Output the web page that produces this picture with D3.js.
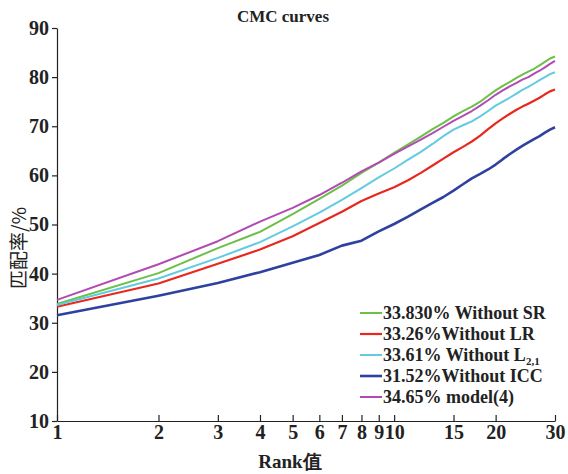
<!DOCTYPE html>
<html>
<head>
<meta charset="utf-8">
<script src="https://cdn.jsdelivr.net/npm/d3@7"></script>
<style>
  body { margin: 0; background: #fff; }
  text { font-family: "Liberation Serif", "DejaVu Serif", serif; font-weight: bold; fill: #222; }
</style>
</head>
<body>
<div id="chart"></div>
<script>
// Data
const ranks = d3.range(1, 31);
const xTicks = [1, 2, 3, 4, 5, 6, 7, 8, 9, 10, 15, 20, 30];
const yTicks = [10, 20, 30, 40, 50, 60, 70, 80, 90];

const withoutSR = [33.83, 40.1, 45.2, 48.5, 52.1, 55.2, 57.9, 60.5, 62.6, 64.6,
    66.3, 67.9, 69.4, 70.7, 72.0, 73.1, 74.0, 75.0, 76.2, 77.3,
    78.2, 79.0, 79.8, 80.5, 81.1, 81.7, 82.4, 83.1, 83.8, 84.2];
const withoutLR = [33.26, 38.0, 42.0, 44.9, 47.6, 50.3, 52.6, 54.8, 56.3, 57.6,
    59.0, 60.5, 62.0, 63.4, 64.7, 65.8, 66.9, 68.1, 69.4, 70.6,
    71.6, 72.5, 73.3, 74.0, 74.6, 75.2, 75.8, 76.5, 77.1, 77.5];
const withoutL21 = [33.61, 39.0, 43.2, 46.4, 49.6, 52.4, 55.0, 57.4, 59.6, 61.4,
    63.2, 64.8, 66.4, 68.0, 69.3, 70.2, 71.0, 72.0, 73.1, 74.2,
    75.0, 75.8, 76.6, 77.4, 78.0, 78.7, 79.4, 80.0, 80.6, 81.0];
const withoutICC = [31.52, 35.5, 38.1, 40.3, 42.2, 43.8, 45.7, 46.7, 48.6, 50.1,
    51.6, 53.1, 54.4, 55.6, 56.9, 58.2, 59.4, 60.3, 61.2, 62.2,
    63.3, 64.3, 65.2, 66.0, 66.7, 67.4, 68.0, 68.7, 69.3, 69.8];
const model4 = [34.65, 41.9, 46.6, 50.6, 53.4, 56.0, 58.5, 60.8, 62.6, 64.4,
    65.9, 67.3, 68.6, 69.9, 71.1, 72.1, 73.1, 74.2, 75.3, 76.4,
    77.3, 78.1, 78.8, 79.5, 80.0, 80.7, 81.3, 82.0, 82.7, 83.3];

const series = [
    { name: "33.830% Without SR", values: withoutSR, color: "#6cbf47", width: 2 },
    { name: "33.26%Without LR", values: withoutLR, color: "#e8281e", width: 2.2 },
    { name: "33.61% Without L", sub: "2,1", values: withoutL21, color: "#62cbe0", width: 2 },
    { name: "31.52%Without ICC", values: withoutICC, color: "#2e419f", width: 2.6 },
    { name: "34.65% model(4)", values: model4, color: "#b14bb3", width: 2 }
];

// SVG size and margins
const svgWidth = 568;
const svgHeight = 474;
const margin = { top: 28, right: 13, bottom: 53, left: 57 };
const width = svgWidth - margin.left - margin.right;
const height = svgHeight - margin.top - margin.bottom;

const svg = d3.select("#chart")
    .append("svg")
    .attr("width", svgWidth)
    .attr("height", svgHeight);

const chartGroup = svg.append("g")
    .attr("transform", `translate(${margin.left}, ${margin.top})`);

// Scales
const xScale = d3.scaleLog()
    .domain([1, 30])
    .range([0, width]);

const yScale = d3.scaleLinear()
    .domain([10, 90])
    .range([height, 0]);

// Axes
const bottomAxis = d3.axisBottom(xScale)
    .tickValues(xTicks)
    .tickFormat(d3.format("d"))
    .tickSizeInner(-6)
    .tickSizeOuter(0)
    .tickPadding(4);

const leftAxis = d3.axisLeft(yScale)
    .tickValues(yTicks)
    .tickSizeInner(5)
    .tickSizeOuter(0)
    .tickPadding(3);

const xAxisG = chartGroup.append("g")
    .attr("transform", `translate(0, ${height})`)
    .call(bottomAxis);

const yAxisG = chartGroup.append("g")
    .call(leftAxis);

[xAxisG, yAxisG].forEach(g => {
    g.selectAll("path, line").attr("stroke", "#222").attr("stroke-width", 1.2);
    g.selectAll("text")
        .attr("fill", "#222")
        .style("font-size", "20px")
        .style("font-family", "'Liberation Serif', serif")
        .style("font-weight", "bold");
});

// Curves
const line = d3.line()
    .x((d, i) => xScale(ranks[i]))
    .y(d => yScale(d));

chartGroup.selectAll(".curve")
    .data(series)
    .join("path")
    .attr("class", "curve")
    .attr("fill", "none")
    .attr("stroke", d => d.color)
    .attr("stroke-width", d => d.width)
    .attr("stroke-linejoin", "round")
    .attr("d", d => line(d.values));

// Title
svg.append("text")
    .attr("x", 283)
    .attr("y", 22)
    .attr("text-anchor", "middle")
    .style("font-size", "17px")
    .text("CMC curves");

// Axis labels
svg.append("text")
    .attr("x", 290)
    .attr("y", 468)
    .attr("text-anchor", "middle")
    .style("font-size", "19px")
    .text("Rank值");

svg.append("text")
    .attr("transform", "translate(26, 248) rotate(-90)")
    .attr("text-anchor", "middle")
    .style("font-family", "'Noto Sans CJK SC', sans-serif")
    .style("font-weight", "normal")
    .style("font-size", "19px")
    .text("匹配率/%");

// Legend
const legend = svg.append("g")
    .attr("transform", "translate(360, 313)");

const rows = legend.selectAll("g")
    .data(series)
    .join("g")
    .attr("transform", (d, i) => `translate(0, ${i * 21})`);

rows.append("line")
    .attr("x1", 0)
    .attr("x2", 22)
    .attr("stroke", d => d.color)
    .attr("stroke-width", d => d.width);

const labels = rows.append("text")
    .attr("x", 23)
    .attr("dy", "0.35em")
    .style("font-size", "18px")
    .text(d => d.name);

labels.filter(d => d.sub)
    .append("tspan")
    .attr("dy", "0.35em")
    .style("font-size", "11px")
    .text(d => d.sub);
</script>
</body>
</html>
